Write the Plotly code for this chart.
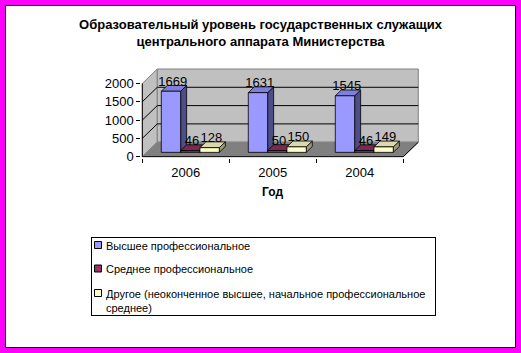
import plotly.graph_objects as go

# ---------------- data ----------------
years = ["2006", "2005", "2004"]
series_names = [
    "Высшее профессиональное",
    "Среднее профессиональное",
    "Другое (неоконченное высшее, начальное профессиональное<br>среднее)",
]
higher_prof = [1669, 1631, 1545]
secondary_prof = [46, 50, 46]
other_edu = [128, 150, 149]
y_ticks = [0, 500, 1000, 1500, 2000]
title_text = "Образовательный уровень государственных служащих<br>центрального аппарата Министерства"
x_title = "Год"

series_values = [higher_prof, secondary_prof, other_edu]

# ---------------- styling / geometry ----------------
FONT = "Liberation Sans, Arial, sans-serif"
W, H = 521, 353
front_cols = ["#9999FF", "#993366", "#FFFFCC"]
top_cols = ["#7F7FDD", "#7A2952", "#D9D9AD"]
side_cols = ["#4D4D88", "#4D1A33", "#9C9C78"]

PX_X0 = 142.3        # pixel of category 0 on front plane
PX_PER_CAT = 87.0
PX_Y0 = 156.7        # pixel of value 0 on front plane
PX_PER_VAL = 0.0366
DX_PX, DY_PX = 15.0, 14.5
dx = DX_PX / PX_PER_CAT
dy = DY_PX / PX_PER_VAL
YMAX = max(y_ticks)
ncat = len(years)
X_RANGE = [-0.012, ncat + dx + 0.02]
Y_RANGE = [-25, YMAX + dy + 25]


def px_x(v):
    return PX_X0 + v * PX_PER_CAT


def px_y(v):
    return PX_Y0 - v * PX_PER_VAL


x_dom = [px_x(X_RANGE[0]) / W, px_x(X_RANGE[1]) / W]
y_dom = [1 - px_y(Y_RANGE[0]) / H, 1 - px_y(Y_RANGE[1]) / H]

fig = go.Figure()


def poly(xs, ys, fill, line_col, width=1, xa="x", ya="y"):
    fig.add_trace(go.Scatter(x=xs, y=ys, mode="lines", fill="toself",
                             fillcolor=fill, line=dict(color=line_col, width=width),
                             hoverinfo="skip", showlegend=False, xaxis=xa, yaxis=ya))


# walls and floor
poly([0, dx, dx, 0, 0], [0, dy, YMAX + dy, YMAX, 0], "#C0C0C0", "#808080")
poly([dx, ncat + dx, ncat + dx, dx, dx], [dy, dy, YMAX + dy, YMAX + dy, dy], "#C0C0C0", "#808080")
poly([0, ncat, ncat + dx, dx, 0], [0, 0, dy, dy, 0], "#808080", "#808080")

# gridlines
gx, gy = [], []
for t in y_ticks[1:-1]:
    gx += [0, dx, ncat + dx, None]
    gy += [t, t + dy, t + dy, None]
fig.add_trace(go.Scatter(x=gx, y=gy, mode="lines", line=dict(color="black", width=1),
                         hoverinfo="skip", showlegend=False))
# front axis lines
fig.add_trace(go.Scatter(x=[0, 0, None, 0, ncat, ncat + dx], y=[YMAX, 0, None, 0, 0, dy],
                         mode="lines", line=dict(color="black", width=1),
                         hoverinfo="skip", showlegend=False))

# bars
nser = len(series_values)
gap = 1.5
bw = 1.0 / (nser + gap)
f0, f1 = 0.3, 0.7
lab_x, lab_y, lab_t = [], [], []
for i, vals in enumerate(series_values):
    fx, fy, sx, sy, tx, ty = [], [], [], [], [], []
    for c, v in enumerate(vals):
        x0 = c + gap * bw / 2 + i * bw
        x1 = x0 + bw
        a0, b0 = f0 * dx, f0 * dy
        a1, b1 = f1 * dx, f1 * dy
        fx += [x0 + a0, x1 + a0, x1 + a0, x0 + a0, x0 + a0, None]
        fy += [b0, b0, v + b0, v + b0, b0, None]
        sx += [x1 + a0, x1 + a1, x1 + a1, x1 + a0, x1 + a0, None]
        sy += [b0, b1, v + b1, v + b0, b0, None]
        tx += [x0 + a0, x1 + a0, x1 + a1, x0 + a1, x0 + a0, None]
        ty += [v + b0, v + b0, v + b1, v + b1, v + b0, None]
        lab_x.append((x0 + x1) / 2 + 0.42 * dx)
        lab_y.append(v + 0.45 * dy)
        lab_t.append(str(v))
    poly(sx, sy, side_cols[i], "black", 0.8)
    poly(tx, ty, top_cols[i], "black", 0.8)
    poly(fx, fy, front_cols[i], "black", 0.8)

fig.add_trace(go.Scatter(x=lab_x, y=lab_y, text=lab_t, mode="text", textposition="top center",
                         textfont=dict(family=FONT, size=13, color="black"),
                         hoverinfo="skip", showlegend=False, cliponaxis=False))

# ---------------- legend (own axes in pixel units) ----------------
LG = [91.5, 434.5, 237.5, 314.5]  # left, right, top, bottom px
leg_y = [245, 268.5, 293]
fig.add_trace(go.Scatter(x=[98] * nser, y=leg_y, mode="markers",
                         marker=dict(symbol="square", size=7, color=front_cols,
                                     line=dict(color="black", width=1)),
                         hoverinfo="skip", showlegend=False, xaxis="x2", yaxis="y2"))
legend_ann = [dict(text=n, xref="x2", yref="y2", x=103.5, y=yy - 7.5, xanchor="left",
                   yanchor="top", align="left", showarrow=False,
                   font=dict(family=FONT, size=11, color="black"))
              for n, yy in zip(series_names, leg_y)]

# ---------------- layout ----------------
fig.update_layout(
    width=W, height=H,
    margin=dict(l=0, r=0, t=0, b=0, pad=0),
    paper_bgcolor="#FF00FF",
    plot_bgcolor="rgba(0,0,0,0)",
    showlegend=False,
    font=dict(family=FONT, color="black"),
    title=dict(text=title_text, x=0.5, xanchor="center", xref="container",
               y=1 - 29 / H, yanchor="top", yref="container",
               font=dict(family=FONT, size=13, color="black", weight="bold")),
    xaxis=dict(domain=x_dom, range=X_RANGE, showgrid=False, zeroline=False, showline=False,
               tickvals=[c + 0.5 for c in range(ncat)], ticktext=years, ticks="",
               ticklabelstandoff=5,
               tickfont=dict(family=FONT, size=13, color="black"),
               minor=dict(tickvals=list(range(ncat + 1)), ticks="outside", ticklen=4,
                          tickcolor="black", tickwidth=1),
               automargin=False, fixedrange=True),
    yaxis=dict(domain=y_dom, range=Y_RANGE, showgrid=False, zeroline=False, showline=False,
               tickvals=y_ticks, ticks="outside", ticklen=4, tickcolor="black", tickwidth=1,
               tickfont=dict(family=FONT, size=13, color="black"),
               automargin=False, fixedrange=True),
    xaxis2=dict(domain=[LG[0] / W, LG[1] / W], range=[LG[0], LG[1]], showgrid=False,
                zeroline=False, showticklabels=False, ticks="", showline=True, mirror=True,
                linecolor="black", linewidth=1, anchor="y2", automargin=False, fixedrange=True),
    yaxis2=dict(domain=[1 - LG[3] / H, 1 - LG[2] / H], range=[LG[3], LG[2]], showgrid=False,
                zeroline=False, showticklabels=False, ticks="", showline=True, mirror=True,
                linecolor="black", linewidth=1, anchor="x2", automargin=False, fixedrange=True),
    shapes=[dict(type="rect", xref="paper", yref="paper", layer="below",
                 x0=5.5 / W, x1=515.5 / W, y0=1 - 347.5 / H, y1=1 - 5.5 / H,
                 fillcolor="white", line=dict(color="black", width=1))],
    annotations=[dict(text="<b>" + x_title + "</b>", xref="x", yref="paper",
                      x=ncat / 2, y=1 - 192 / H, xanchor="center", yanchor="middle",
                      showarrow=False, font=dict(family=FONT, size=12, color="black"))]
    + legend_ann,
)

fig.write_html("out.html")
